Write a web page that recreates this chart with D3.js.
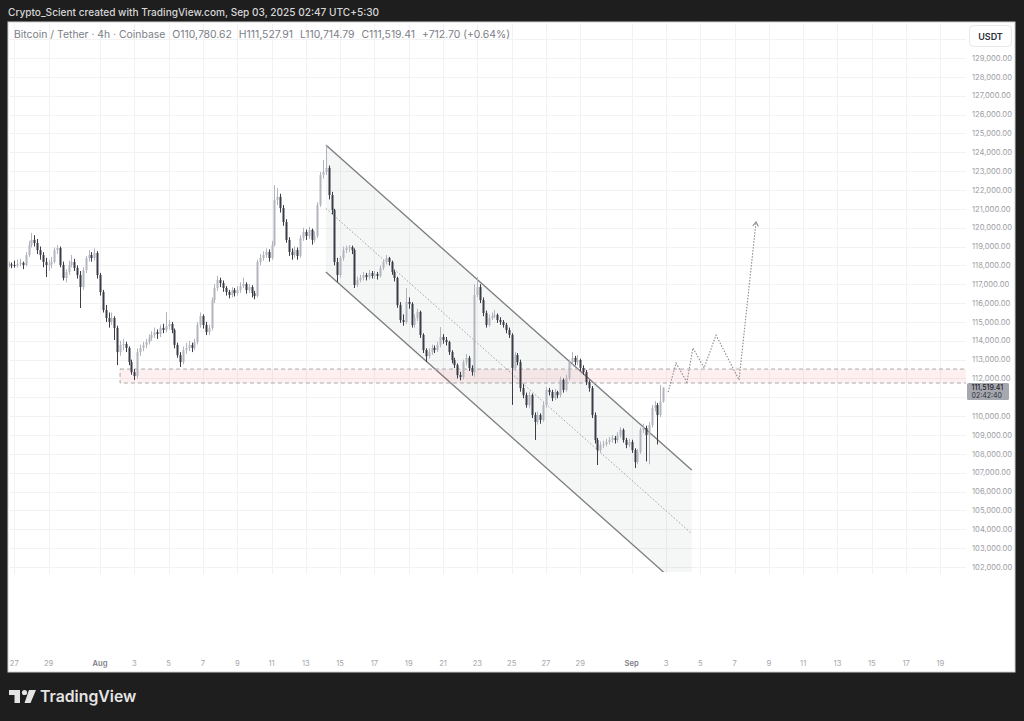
<!DOCTYPE html>
<html><head><meta charset="utf-8">
<script src="https://cdn.jsdelivr.net/npm/d3@7/dist/d3.min.js"></script>
<style>
html,body{margin:0;padding:0;background:#1e1e1e;}
svg{display:block;}
text{font-family:"Inter","Roboto","Noto Sans",sans-serif;}
</style></head>
<body>
<svg id="c" width="1024" height="721"></svg>
<script>
// ---------------- DATA ----------------
const creditText = "Crypto_Scient created with TradingView.com, Sep 03, 2025 02:47 UTC+5:30";
const symbolText = "Bitcoin / Tether · 4h · Coinbase";
const legendValues = ["O110,780.62", "H111,527.91", "L110,714.79", "C111,519.41", "+712.70 (+0.64%)"];
const currency = "USDT";
const lastPriceLabel = "111,519.41";
const countdownLabel = "02:42:40";
const lastPrice = 111519.41;
const firstCandleTime = "2025-07-26T16:00:00Z";
const candleHours = 4;
// [open, high, low, close] for each 4h candle, Jul 26 16:00 -> Sep 2 20:00 (UTC)
const ohlc = [
[118000,118200,117900,118050],[118050,118150,117850,118020],
[118020,118250,117880,118000],[118000,118300,117900,118070],[118070,118350,117950,118130],[118130,118200,117800,118020],[118020,118700,117950,118550],[118550,119300,118450,119080],
[119080,119720,118950,119350],[119350,119600,119000,119190],[119190,119400,118600,118810],[118810,119000,118300,118550],[118550,118700,117900,118180],[118180,118400,117380,118020],
[118020,118300,117700,118050],[118050,118450,117850,118180],[118180,118950,118100,118810],[118810,119080,118600,118920],[118920,119000,117900,118020],[118020,118200,117200,117330],
[117330,117800,117100,117650],[117650,118250,117500,118020],[118020,118550,117900,118180],[118180,118350,117700,117860],[117860,118000,117300,117490],[117490,117700,115740,116850],
[116850,117900,116700,117750],[117750,118500,117600,118390],[118390,118800,118200,118550],[118550,118700,118200,118390],[118390,118900,118250,118660],[118660,118750,117300,117490],
[117490,117600,116400,116590],[116590,116700,115500,115630],[115630,115900,115000,115210],[115210,115500,114700,115000],[115000,115500,114850,115210],[115210,115300,114040,114680],
[114680,114800,112710,113400],[113400,114000,113200,113780],[113780,114100,113500,113830],[113830,113950,113400,113620],[113620,113700,112700,112870],[112870,113000,112200,112340],
[112340,112500,111920,112130],[112130,113600,112000,113400],[113400,113800,113200,113620],[113620,113950,113450,113780],[113780,114100,113600,113930],[113930,114350,113800,114150],
[114150,114500,114000,114310],[114310,114700,114150,114460],[114460,114600,114100,114360],[114360,114850,114200,114680],[114680,114900,114400,114570],[114570,115530,114450,114780],
[114780,115100,114600,114890],[114890,115000,114400,114570],[114570,114650,113600,113780],[113780,113900,113100,113240],[113240,113400,112610,112870],[112870,113700,112750,113510],
[113510,113900,113300,113620],[113620,114000,113450,113780],[113780,113900,113400,113620],[113620,114100,113500,113930],[113930,115000,113800,114840],[114840,115500,114700,115310],
[115310,115400,114650,114840],[114840,115000,114300,114460],[114460,114850,114300,114680],[114680,116300,114550,116160],[116160,117000,116000,116800],[116800,117450,116650,117220],
[117220,117350,116850,117060],[117060,117200,116600,116800],[116800,116900,116400,116590],[116590,116700,116250,116430],[116430,116850,116300,116690],[116690,116800,116350,116530],
[116530,116900,116400,116690],[116690,117100,116550,116900],[116900,117350,116800,117010],[117010,117100,116500,116690],[116690,117000,116550,116850],[116850,116950,116300,116530],
[116530,116650,116200,116370],[116370,118300,116300,118180],[118180,118600,118000,118390],[118390,118750,118250,118550],[118550,118900,118400,118710],[118710,118850,118200,118390],
[118390,119300,118300,119080],[119080,122260,119000,121470],[121470,122100,121200,121630],[121630,121800,120800,121040],[121040,121200,120100,120300],[120300,120450,119200,119350],
[119350,119500,118500,118710],[118710,118900,118300,118550],[118550,119000,118400,118810],[118810,118950,118300,118500],[118500,119600,118400,119450],[119450,120000,119300,119770],
[119770,119900,119350,119560],[119560,120050,119400,119880],[119880,119950,119100,119350],[119350,119800,119200,119560],[119560,121350,119450,121200],[121200,122950,121100,122790],
[122790,123590,122600,122950],[122950,124390,122800,123170],[123170,123300,121500,121730],[121730,121900,120700,120940],[120940,121000,118000,118180],[118180,118400,117120,117490],
[117490,118500,117350,118390],[118390,119000,118250,118810],[118810,119050,118650,118920],[118920,119080,118700,118970],[118970,119050,118600,118810],[118810,118900,116800,116960],
[116960,117400,116850,117220],[117220,117500,117100,117330],[117330,117650,117200,117490],[117490,117600,117200,117380],[117380,117750,117250,117590],[117590,117700,117300,117440],
[117440,117700,117300,117540],[117540,117650,117250,117440],[117440,118000,117350,117860],[117860,118300,117750,118180],[118180,118550,118050,118390],[118390,118450,118000,118180],
[118180,118250,117500,117650],[117650,117750,117150,117330],[117330,117400,115750,115900],[115900,116050,114950,115100],[115100,115400,114800,115000],[115000,116800,114900,116060],
[116060,116300,115700,115950],[115950,116050,114700,114840],[114840,115400,114700,115210],[115210,115700,115050,115530],[115530,115600,114150,114310],[114310,114400,113350,113510],
[113510,113600,112870,113190],[113190,113600,113050,113400],[113400,113800,113250,113620],[113620,113750,113350,113510],[113510,113950,113400,113780],[113780,114730,113650,114200],
[114200,114350,113850,114040],[114040,114200,113750,113930],[113930,114000,113250,113400],[113400,113500,112800,112980],[112980,113100,112550,112710],[112710,112800,112000,112180],
[112180,112350,111900,112080],[112080,113000,111950,112870],[112870,113300,112700,113090],[113090,113200,112400,112560],[112560,112700,112150,112340],[112340,117000,112080,116430],
[116430,117380,116300,116850],[116850,117000,116000,116160],[116160,116300,115300,115470],[115470,115600,114700,114840],[114840,115400,114750,115210],[115210,115500,115100,115310],
[115310,115630,115200,115370],[115370,115450,114950,115100],[115100,115250,114850,115000],[115000,115100,114700,114840],[114840,114950,114400,114570],[114570,114700,114150,114310],
[114310,114400,110600,112560],[112560,113400,112400,113240],[113240,113350,112700,112870],[112870,113000,111300,111490],[111490,111700,110950,111120],[111120,111250,110450,110590],
[110590,111300,110450,111120],[111120,111200,109900,110060],[110060,110200,108740,109690],[109690,110250,109550,110060],[110060,110150,109600,109800],[109800,110750,109700,110590],
[110590,111550,110450,111390],[111390,111500,111100,111280],[111280,111400,110800,110960],[110960,111450,110850,111280],[111280,111350,110950,111120],[111120,112100,111000,111920],
[111920,112000,111250,111390],[111390,112200,111300,112020],[112020,113000,111900,112870],[112870,113400,112750,113090],[113090,113200,112700,112870],[112870,113250,112700,112980],
[112980,113050,112400,112560],[112560,112700,112200,112340],[112340,112450,111650,111810],[111810,111900,111300,111490],[111490,111600,109900,110060],[110060,110200,108550,108740],
[108740,108850,107410,108200],[108200,108650,108050,108470],[108470,108700,108300,108520],[108520,108800,108400,108630],[108630,108900,108500,108740],[108740,109000,108600,108840],
[108840,108950,108550,108740],[108740,109150,108600,109000],[109000,109420,108850,109270],[109270,109350,108600,108740],[108740,108850,108300,108470],[108470,108800,108350,108630],
[108630,108750,108050,108200],[108200,108300,107250,107570],[107570,108250,107450,108100],[108100,109400,108000,109270],[109270,109600,109100,109370],[109370,109500,107600,109000],
[109000,109700,107450,109530],[109530,110600,109400,110430],[110430,110800,110250,110590],[110590,110700,108500,110060],[110060,111650,109950,110780.62],[110780.62,111527.91,110714.79,111519.41]
];
// price axis ticks
const priceTicks = [102000,103000,104000,105000,106000,107000,108000,109000,110000,111000,112000,113000,114000,115000,116000,117000,118000,119000,120000,121000,122000,123000,124000,125000,126000,127000,128000,129000];
// time axis ticks (label, UTC date)
const timeTickDates = ["2025-07-27","2025-07-29","2025-08-01","2025-08-03","2025-08-05","2025-08-07","2025-08-09","2025-08-11","2025-08-13","2025-08-15","2025-08-17","2025-08-19","2025-08-21","2025-08-23","2025-08-25","2025-08-27","2025-08-29","2025-09-01","2025-09-03","2025-09-05","2025-09-07","2025-09-09","2025-09-11","2025-09-13","2025-09-15","2025-09-17","2025-09-19"];
const timeTickLabels = ["27","29","Aug","3","5","7","9","11","13","15","17","19","21","23","25","27","29","Sep","3","5","7","9","11","13","15","17","19"];
// support zone
const zoneStart = "2025-08-02T04:00:00Z";
const zonePrices = [111760, 112500];
// parallel channel: [time, price] of upper line start/end, lower line offset price at start
const channelTimes = ["2025-08-14T04:00:00Z", "2025-09-04T12:00:00Z"];
const channelUpper = [124390, 107140];
const channelLower = [117650, 100400];
// projected path
const projTimes = ["2025-09-03T03:00:00Z","2025-09-03T14:00:00Z","2025-09-04T05:20:00Z","2025-09-04T13:40:00Z","2025-09-05T05:20:00Z","2025-09-05T22:00:00Z","2025-09-07T06:15:00Z","2025-09-08T06:00:00Z"];
const projPrices = [111280,112820,111810,113620,112560,114300,111920,120300];

// ---------------- LAYOUT ----------------
const svg = d3.select("#c");
const panel = {x0:8, x1:1015, y0:22, y1:672};
const plot = {x0:8, x1:966, y0:22, y1:574};
const parseT = s => new Date(s);
const x = d3.scaleUtc()
  .domain([new Date("2025-07-27T00:00:00Z"), new Date("2025-09-19T00:00:00Z")])
  .range([14.3, 14.3 + 17.15*54]);
const y = d3.scaleLinear().domain([102000,129000]).range([567,58]);

svg.append("rect").attr("x",0).attr("y",0).attr("width",1024).attr("height",721).attr("fill","#1e1e1e");
svg.append("rect").attr("x",panel.x0).attr("y",panel.y0).attr("width",panel.x1-panel.x0).attr("height",panel.y1-panel.y0)
  .attr("fill","#ffffff").attr("stroke","#d0d0d0").attr("stroke-width",1);

svg.append("text").attr("x",8).attr("y",16).attr("fill","#d6d6d6").attr("font-size",10.1).attr("font-weight",500).text(creditText);

const defs = svg.append("defs");
defs.append("clipPath").attr("id","plotclip").append("rect")
  .attr("x",plot.x0).attr("y",plot.y0).attr("width",plot.x1-plot.x0).attr("height",plot.y1-plot.y0);

const g = svg.append("g").attr("clip-path","url(#plotclip)");

// grid
g.selectAll("line.hg").data(priceTicks.concat([130000])).enter().append("line")
  .attr("x1",plot.x0).attr("x2",plot.x1)
  .attr("y1",d=>Math.round(y(d))+0.5).attr("y2",d=>Math.round(y(d))+0.5)
  .attr("stroke","#f2f2f3").attr("stroke-width",1);
g.selectAll("line.vg").data(timeTickDates).enter().append("line")
  .attr("x1",d=>Math.round(x(parseT(d+"T00:00:00Z")))+0.5).attr("x2",d=>Math.round(x(parseT(d+"T00:00:00Z")))+0.5)
  .attr("y1",plot.y0).attr("y2",plot.y1)
  .attr("stroke","#f2f2f3").attr("stroke-width",1);

// channel
const ct0 = x(parseT(channelTimes[0])), ct1 = x(parseT(channelTimes[1]));
const chClip = defs.append("clipPath").attr("id","chclip");
chClip.append("rect").attr("x",plot.x0).attr("y",plot.y0).attr("width",plot.x1-plot.x0).attr("height",572-plot.y0);
const cg = g.append("g").attr("clip-path","url(#chclip)");
cg.append("path")
  .attr("d", d3.line()([[ct0,y(channelUpper[0])],[ct1,y(channelUpper[1])],[ct1,y(channelLower[1])],[ct0,y(channelLower[0])]]))
  .attr("fill","rgba(120,123,134,0.07)");

// zone
const zx0 = x(parseT(zoneStart));
g.append("rect").attr("x",zx0).attr("y",y(zonePrices[1])).attr("width",plot.x1-zx0+5).attr("height",y(zonePrices[0])-y(zonePrices[1]))
  .attr("fill","rgba(242,54,69,0.08)").attr("stroke","#aaaaae").attr("stroke-width",1).attr("stroke-dasharray","4,3");

// candles
const t0 = parseT(firstCandleTime).getTime();
const candles = ohlc.map((d,i)=>({t:new Date(t0 + i*candleHours*3600000), o:d[0], h:d[1], l:d[2], c:d[3]}));
const upCol = "#b2b5be", dnCol = "#3a3d46";
const cgs = g.append("g");
candles.forEach(d=>{
  const cx = Math.round(x(d.t));
  const col = d.c >= d.o ? upCol : dnCol;
  cgs.append("line").attr("x1",cx+0.5).attr("x2",cx+0.5).attr("y1",y(d.h)).attr("y2",y(d.l)).attr("stroke",col).attr("stroke-width",1);
  const top = y(Math.max(d.o,d.c)), bot = y(Math.min(d.o,d.c));
  cgs.append("rect").attr("x",cx-0.5).attr("width",2).attr("y",top).attr("height",Math.max(1,bot-top)).attr("fill",col);
});

// channel lines on top
[channelUpper, channelLower].forEach(p=>{
  cg.append("line").attr("x1",ct0).attr("y1",y(p[0])).attr("x2",ct1).attr("y2",y(p[1])).attr("stroke","#7c7c80").attr("stroke-width",1.3);
});
cg.append("line").attr("x1",ct0).attr("y1",y((channelUpper[0]+channelLower[0])/2)).attr("x2",ct1).attr("y2",y((channelUpper[1]+channelLower[1])/2))
  .attr("stroke","#8a8a8e").attr("stroke-width",0.8).attr("stroke-dasharray","1.5,2");

// projection path
const proj = projTimes.map((t,i)=>[x(parseT(t)), y(projPrices[i])]);
g.append("path").attr("d", d3.line()(proj)).attr("fill","none").attr("stroke","#8c8c90").attr("stroke-width",1.1).attr("stroke-dasharray","1.5,1.5");
const tip = proj[proj.length-1], prev = proj[proj.length-2];
const ang = Math.atan2(tip[1]-prev[1], tip[0]-prev[0]);
const al = 5, aw = 0.6;
const arm = s => [tip[0]-al*Math.cos(ang+s*aw), tip[1]-al*Math.sin(ang+s*aw)];
g.append("path").attr("d", d3.line()([arm(1), tip, arm(-1)])).attr("fill","none").attr("stroke","#8c8c90").attr("stroke-width",1.1);

// last price label box (hides axis labels underneath it, as TradingView does)
const ly = y(lastPrice);
const boxTop = ly - 4.5, boxH = 17;

// price axis labels
svg.selectAll("text.pl").data(priceTicks.filter(d => y(d) < boxTop - 3 || y(d) > boxTop + boxH + 3)).enter().append("text")
  .attr("x",972).attr("y",d=>y(d)+2.7).attr("font-size",7.6).attr("fill","#9c9ea4")
  .text(d=>d3.format(",.2f")(d));

svg.append("rect").attr("x",967).attr("y",boxTop).attr("width",42).attr("height",boxH).attr("rx",1.5).attr("fill","#a6a8b0");
svg.append("text").attr("x",971.5).attr("y",ly+2.6).attr("font-size",7).attr("fill","#1f2128").attr("font-weight",500).text(lastPriceLabel);
svg.append("text").attr("x",971.5).attr("y",ly+10.9).attr("font-size",7).attr("fill","#2d3038").text(countdownLabel);

// currency box
svg.append("rect").attr("x",969.5).attr("y",25.5).attr("width",42).attr("height",21).attr("rx",4).attr("fill","#fff").attr("stroke","#e6e7ea");
svg.append("text").attr("x",990.5).attr("y",39.5).attr("text-anchor","middle").attr("font-size",9).attr("font-weight",600).attr("fill","#2a2e39").text(currency);

// time axis labels
svg.selectAll("text.tl").data(timeTickDates).enter().append("text")
  .attr("x",d=>x(parseT(d+"T00:00:00Z"))).attr("y",666).attr("text-anchor","middle")
  .attr("font-size",7.6)
  .attr("fill",(d,i)=> isNaN(+timeTickLabels[i]) ? "#7d8089" : "#a4a6ac")
  .attr("font-weight",(d,i)=> isNaN(+timeTickLabels[i]) ? 600 : 400)
  .text((d,i)=>timeTickLabels[i]);

// legend
const leg = svg.append("text").attr("x",14).attr("y",37.5).attr("font-size",10.4).attr("fill","#7b7e87");
leg.append("tspan").text(symbolText);
legendValues.forEach(v=>leg.append("tspan").attr("dx",7).text(v));

// TradingView logo
const lg = svg.append("g").attr("fill","#e4e4e4");
lg.append("path").attr("d","M9,690 H20 V703 H14.5 V695 H9 Z");
lg.append("circle").attr("cx",24.5).attr("cy",692.5).attr("r",2.6);
lg.append("path").attr("d","M29,690 H36 L30.5,703 H24.5 Z");
svg.append("text").attr("x",40).attr("y",702).attr("font-size",15.8).attr("font-weight",600).attr("fill","#e4e4e4").text("TradingView");
</script>
</body></html>
